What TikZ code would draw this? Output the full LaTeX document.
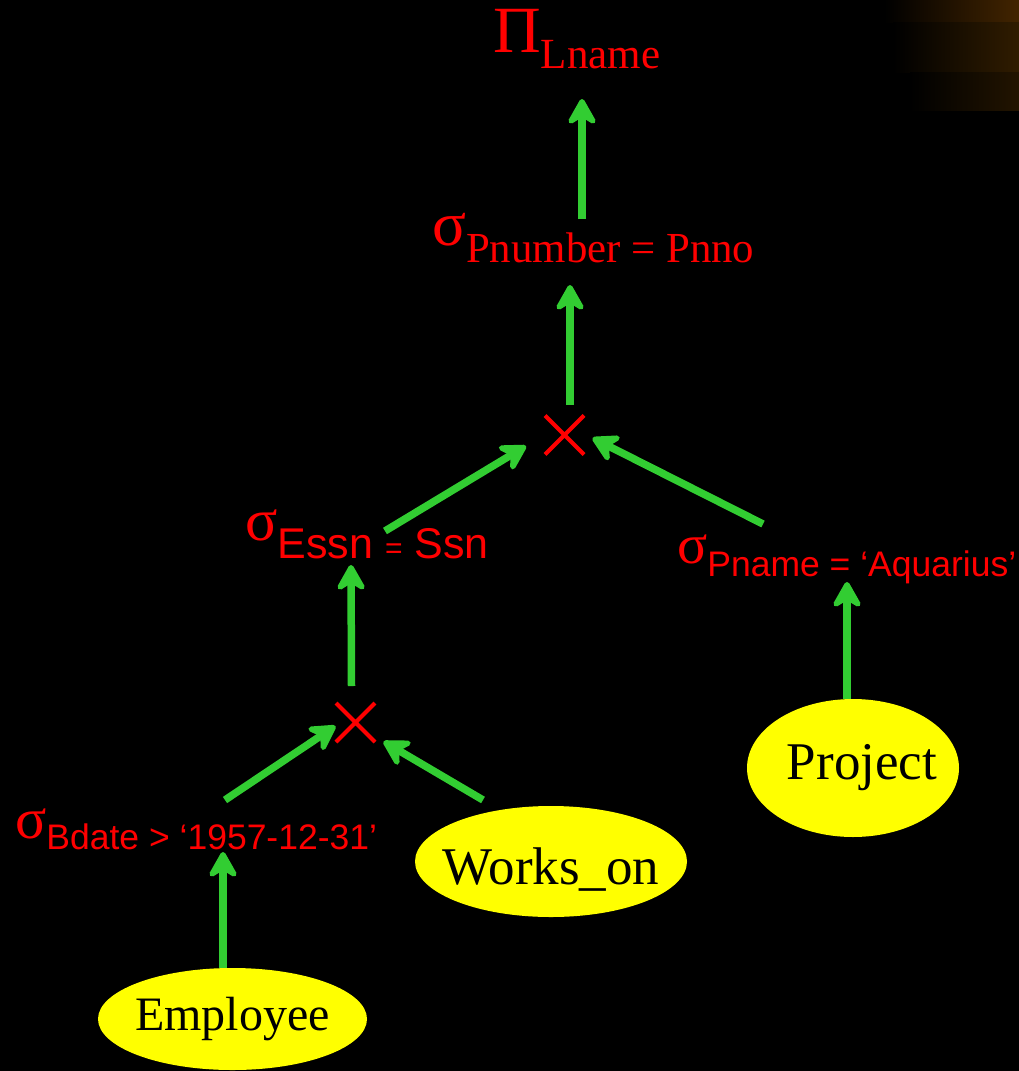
\documentclass[tikz,border=0pt]{standalone}
\usepackage{fontspec}
\setmainfont{Liberation Serif}
\newfontfamily\arialfont{Liberation Sans}
\usetikzlibrary{arrows.meta,shapes.geometric,shapes.misc}
\definecolor{linkgreen}{RGB}{50,205,50}
\definecolor{relyellow}{RGB}{255,255,0}
\definecolor{bandA}{RGB}{66,36,0}
\definecolor{bandB}{RGB}{48,28,0}
\definecolor{bandC}{RGB}{34,20,0}

\begin{document}
\begin{tikzpicture}[x=1pt, y=-1pt,
  op/.style={text=red, inner sep=0pt, anchor=base west},
  rel/.style={ellipse, fill=relyellow, inner ysep=0pt},
  prod/.style={cross out, draw=red, line width=4pt, minimum size=35pt, inner sep=0pt},
  link/.style={draw=linkgreen, line width=7.5pt, -{Stealth[length=32pt, width=36pt, inset=11pt, round]}}]
  % background
  \useasboundingbox (0,0) rectangle (1019,1071);
  \fill[black] (0,0) rectangle (1019,1071);
  \shade[left color=black, right color=bandA] (884,0) rectangle (1019,22);
  \shade[left color=black, right color=bandB] (893,22) rectangle (1019,72);
  \shade[left color=black, right color=bandC] (910,72) rectangle (1019,110);

  % operators
  \node[op] (proj) at (493,52) {{\fontsize{66}{66}\selectfont Π}\raisebox{-16pt}{\fontsize{43}{43}\selectfont Lname}};
  \node[op] (sel1) at (432,245) {{\fontsize{63}{63}\selectfont σ}\raisebox{-17pt}{\fontsize{42.8}{42.8}\selectfont Pnumber = Pnno}};
  \node[prod] (join1) at (564.5,435) {};
  \node[op] (sel2) at (245,540) {{\fontsize{60}{60}\selectfont σ}\raisebox{-18pt}{\fontsize{43}{43}\arialfont Essn {\fontsize{30}{30}\selectfont =} Ssn}};
  \node[op] (sel3) at (677,563) {{\fontsize{56}{56}\selectfont σ}\raisebox{-13pt}{\fontsize{35.5}{35.5}\arialfont Pname = ‘Aquarius’}};
  \node[prod] (join2) at (355.5,722.5) {};
  \node[op] (sel4) at (15,838) {{\fontsize{58}{58}\selectfont σ}\raisebox{-11pt}{\fontsize{35.5}{35.5}\arialfont Bdate > ‘1957-12-31’}};

  % relations
  \node[rel, inner xsep=-2.5pt, minimum width=269pt, minimum height=102pt, font=\fontsize{48}{48}\selectfont] (employee) at (232.5,1019) {Employee};
  \node[rel, inner xsep=-14pt, minimum width=272pt, minimum height=111pt, text height=52pt, text depth=6.5pt, font=\fontsize{53}{53}\selectfont] (workson) at (551,861.5) {Works\_on};
  \node[rel, inner xsep=-10pt, minimum width=212pt, minimum height=138pt, font=\fontsize{53}{53}\selectfont] (project) at (853,768) {\hspace*{18pt}Project};

  % arrows
  \draw[link] ([xshift=150pt,yshift=26pt]sel1.base west) -- ([xshift=89pt,yshift=-47pt]proj.base west);
  \draw[link] ([xshift=5.5pt,yshift=30pt]join1.center) -- ([xshift=138pt,yshift=-40pt]sel1.base west);
  \draw[link] ([xshift=140pt,yshift=9pt]sel2.base west) -- ([xshift=-38.5pt,yshift=-11pt]join1.center);
  \draw[link] ([xshift=86pt,yshift=39pt]sel3.base west) -- ([xshift=28pt,yshift=-3pt]join1.center);
  \draw[link] ([xshift=-4pt,yshift=36.5pt]join2.center) -- ([xshift=106pt,yshift=-25pt]sel2.base west);
  \draw[link] ([xshift=-6pt]project.north) -- ([xshift=170pt,yshift=-19pt]sel3.base west);
  \draw[link] ([xshift=210pt,yshift=38pt]sel4.base west) -- ([xshift=-20pt,yshift=-3.5pt]join2.center);
  \draw[link] ([xshift=-68pt,yshift=61.5pt]workson.center) -- ([xshift=28pt,yshift=-19pt]join2.center);
  \draw[link] ([xshift=-9.5pt]employee.north) -- ([xshift=208pt,yshift=-14pt]sel4.base west);
\end{tikzpicture}
\end{document}
